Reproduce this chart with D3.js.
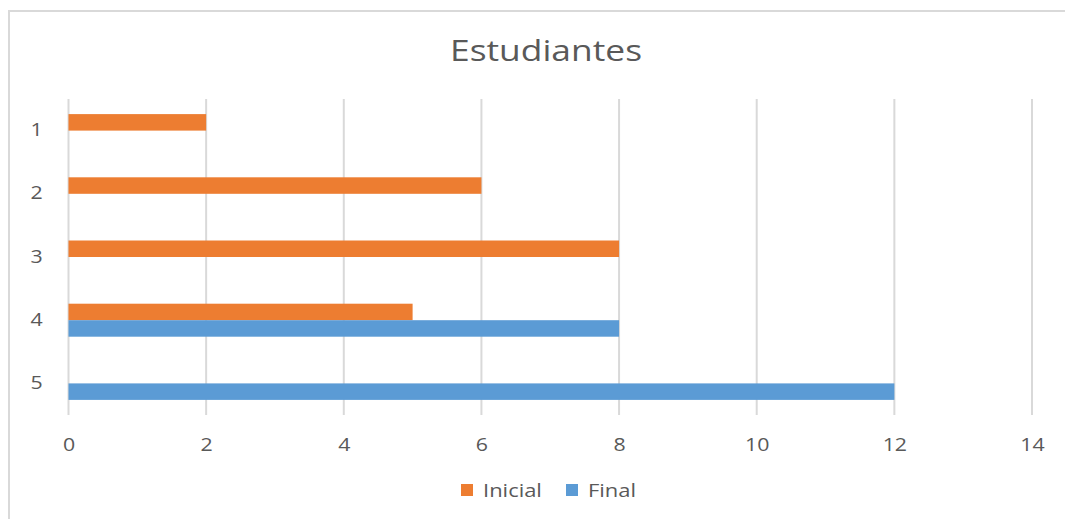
<!DOCTYPE html>
<html>
<head>
<meta charset="utf-8">
<script src="https://cdn.jsdelivr.net/npm/d3@7"></script>
<style>
  body { margin: 0; background: #fff; }
  svg { display: block; font-family: "Open Sans", "Noto Sans", sans-serif; }
</style>
</head>
<body>
<svg width="1065" height="519"></svg>
<script>
// data
const categories = ["1", "2", "3", "4", "5"];
const seriesNames = ["Inicial", "Final"];
const inicial = [2, 6, 8, 5, 0];
const final = [0, 0, 0, 8, 12];
const xTicks = [0, 2, 4, 6, 8, 10, 12, 14];
const colors = { Inicial: "#ed7d31", Final: "#5b9bd5" };

// the picture's text is a bit wide, stretch it sideways
const stretch = 1.22;

const svg = d3.select("svg");

// chart frame (cut off on right and bottom)
svg.append("rect")
  .attr("x", 9).attr("y", 11)
  .attr("width", 1100).attr("height", 560)
  .attr("fill", "#fff")
  .attr("stroke", "#d9d9d9")
  .attr("stroke-width", 2);

const x = d3.scaleLinear().domain([0, 14]).range([68.5, 1032]);

const y = d3.scaleBand()
  .domain(categories)
  .range([99, 415])
  .paddingInner(0.478)
  .paddingOuter(0.239);

const ySub = d3.scaleBand()
  .domain(seriesNames)
  .range([0, y.bandwidth()]);

// gridlines
svg.append("g")
  .selectAll("line")
  .data(xTicks)
  .join("line")
  .attr("x1", d => x(d)).attr("x2", d => x(d))
  .attr("y1", 99).attr("y2", 415)
  .attr("stroke", "#d9d9d9")
  .attr("stroke-width", 2);

// bars
const rows = categories.map((c, i) => ({ cat: c, Inicial: inicial[i], Final: final[i] }));

const groups = svg.append("g")
  .selectAll("g")
  .data(rows)
  .join("g")
  .attr("transform", d => `translate(0,${y(d.cat)})`);

groups.selectAll("rect")
  .data(d => seriesNames.map(s => ({ key: s, value: d[s] })))
  .join("rect")
  .attr("x", x(0))
  .attr("y", d => ySub(d.key))
  .attr("width", d => x(d.value) - x(0))
  .attr("height", ySub.bandwidth())
  .attr("fill", d => colors[d.key]);

// x axis labels
const xAxis = d3.axisBottom(x).tickValues(xTicks).tickSize(0).tickPadding(0);
const xg = svg.append("g")
  .attr("transform", "translate(0,415)")
  .call(xAxis);
xg.select(".domain").remove();
xg.selectAll("text")
  .attr("dy", 0)
  .attr("y", 36)
  .attr("transform", `scale(${stretch},1)`)
  .attr("fill", "#595959")
  .style("font-size", "17.5px")
  .style("font-family", "'Open Sans', 'Noto Sans', sans-serif");

// y axis labels
const yAxis = d3.axisLeft(y).tickSize(0).tickPadding(0);
const yg = svg.append("g")
  .attr("transform", "translate(68.5,0)")
  .call(yAxis);
yg.select(".domain").remove();
yg.selectAll("text")
  .attr("x", -32 / stretch)
  .attr("text-anchor", "middle")
  .attr("transform", `scale(${stretch},1)`)
  .attr("fill", "#595959")
  .style("font-size", "17.5px")
  .style("font-family", "'Open Sans', 'Noto Sans', sans-serif");

// title
svg.append("text")
  .attr("transform", `translate(546,61) scale(${stretch},1)`)
  .attr("text-anchor", "middle")
  .attr("fill", "#595959")
  .style("font-size", "29px")
  .text("Estudiantes");

// legend
const legend = svg.append("g").attr("transform", "translate(461,490)");
const legendX = [0, 105];
seriesNames.forEach((s, i) => {
  const lg = legend.append("g").attr("transform", `translate(${legendX[i]},0)`);
  lg.append("rect")
    .attr("x", 0).attr("y", -6)
    .attr("width", 12).attr("height", 12)
    .attr("fill", colors[s]);
  lg.append("text")
    .attr("transform", `translate(22,7) scale(${stretch},1)`)
    .attr("fill", "#595959")
    .style("font-size", "18px")
    .text(s);
});
</script>
</body>
</html>
